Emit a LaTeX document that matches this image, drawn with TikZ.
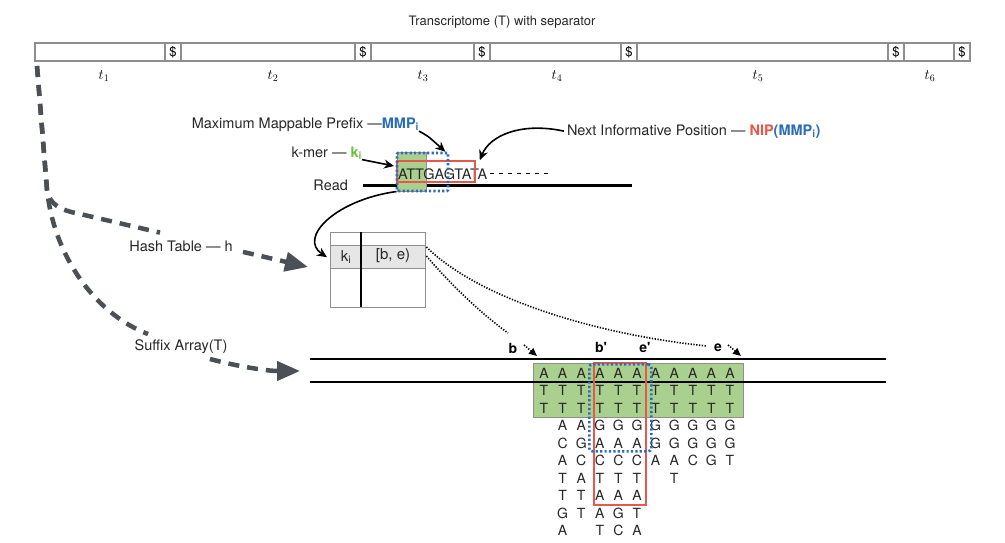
\documentclass[tikz,border=0pt]{standalone}
\usepackage{fontspec}
\newfontfamily\hv{TeX Gyre Heros}
\usetikzlibrary{arrows.meta}
\definecolor{mblue}{HTML}{2C6DB7}
\definecolor{mred}{HTML}{E8584A}
\definecolor{mgreen}{HTML}{6DBE45}
\definecolor{gfill}{HTML}{A9D08E}
\definecolor{dgray}{HTML}{4B4F56}
\definecolor{bgray}{HTML}{8E8E8E}
\definecolor{hgray}{HTML}{E6E6E6}
\definecolor{txt}{HTML}{262626}
\begin{document}
\begin{tikzpicture}[x=1pt,y=-1pt,
  lbl/.style={font=\hv\fontsize{14.5}{16}\selectfont, text=txt, inner sep=0pt, outer sep=0pt},
  big/.style={font=\hv\fontsize{14}{16}\selectfont, text=txt, inner sep=0pt, outer sep=0pt},
  bl/.style={font=\hv\bfseries\fontsize{14}{16}\selectfont, inner sep=0pt, outer sep=0pt},
  seg/.style={draw=bgray, line width=1.4pt, inner sep=0pt, outer sep=0pt, minimum height=18pt, anchor=north west, font=\hv\fontsize{13}{15}\selectfont},
  tlab/.style={inner sep=0pt, font=\fontsize{14}{16}\selectfont},
  gdash/.style={draw=dgray, line width=4.5pt, dash pattern=on 11pt off 8pt},
  gtip/.style={-{Triangle[length=23pt,width=19pt]}},
  barrow/.style={-{Stealth[length=10pt,width=9pt]}, line width=1.6pt},
  bdot/.style={draw=mblue, line width=2.6pt, dash pattern=on 2.2pt off 2.2pt},
  redbox/.style={draw=mred, line width=1.6pt},
  kdot/.style={line width=1.6pt, dash pattern=on 1.3pt off 1.5pt},
  sa/.style={font=\hv\fontsize{14}{16}\selectfont, text=txt, inner sep=0pt}
]
\useasboundingbox (0,0) rectangle (1005,542);

% ---- transcriptome bar
\node[lbl, font=\hv\fontsize{13}{15}\selectfont] (title) at (502,22) {Transcriptome (T) with separator};
\node[seg, minimum width=130pt] (s1) at (35,43) {};
\node[seg, minimum width=16pt] (d1) at (165,43) {\$};
\node[seg, minimum width=174pt] (s2) at (181,43) {};
\node[seg, minimum width=16pt] (d2) at (355,43) {\$};
\node[seg, minimum width=103pt] (s3) at (371,43) {};
\node[seg, minimum width=16pt] (d3) at (474,43) {\$};
\node[seg, minimum width=131pt] (s4) at (490,43) {};
\node[seg, minimum width=16pt] (d4) at (621,43) {\$};
\node[seg, minimum width=251pt] (s5) at (637,43) {};
\node[seg, minimum width=16pt] (d5) at (888,43) {\$};
\node[seg, minimum width=50pt] (s6) at (904,43) {};
\node[seg, minimum width=16pt] (d6) at (954,43) {\$};
\node[tlab] (l1) at (104,76) {$t_1$};
\node[tlab] (l2) at (273,76) {$t_2$};
\node[tlab] (l3) at (423,76) {$t_3$};
\node[tlab] (l4) at (557,76) {$t_4$};
\node[tlab] (l5) at (758,76) {$t_5$};
\node[tlab] (l6) at (930,76) {$t_6$};

% ---- gray dashed arrows
\coordinate (gstart) at (37,66);
\coordinate (gbend) at (47,190);
\coordinate (htip) at (308,267);
\coordinate (stip) at (300,371);
\draw[gdash] (gstart) -- (gbend) .. controls (50,205) and (60,210) .. (80,214) -- (160,232.6);
\draw[gdash, gtip] (243,251.9) -- (htip);
\node[lbl] (hlab) at (181,246) {Hash Table — h};
\draw[gdash] (gstart) -- (gbend) .. controls (55,262) and (100,316) .. (148,334);
\draw[gdash, gtip] (210,359) .. controls (240,367) and (268,371) .. (stip);
\node[lbl] (slab) at (181,347) {Suffix Array(T)};

% ---- read
\draw[line width=3pt] (363,185) -- (632,185) coordinate (readend);
\node[lbl, anchor=east] (readlab) at (348,185) {Read};
\node[draw=bgray, line width=1pt, fill=gfill, minimum width=29pt, minimum height=39pt, inner sep=0pt] (kbox) at (411.5,171.5) {};
\node[big, anchor=base west, font=\hv\fontsize{14.5}{16}\selectfont] (rtxt) at (398,179) {ATTGAGTATA};
\draw[line width=1pt, dash pattern=on 4pt off 5pt] ([xshift=3pt]rtxt.east) -- ++(62,0) coordinate (rdashend);
\node[redbox, minimum width=78pt, minimum height=21pt, inner sep=0pt] (rbox) at (436,171.5) {};
\node[bdot, rounded corners=1pt, minimum width=51pt, minimum height=38pt, inner sep=0pt] (bbox) at (422.5,172) {};

\node[lbl, anchor=base east] (mmplab) at (419,128) {Maximum Mappable Prefix —\textcolor{mblue}{\bfseries MMP\textsubscript{i}}};
\node[lbl, anchor=base east] (kmerlab) at (362,157) {k-mer — \textcolor{mgreen}{\bfseries k\textsubscript{i}}};
\node[lbl, anchor=base west] (niplab) at (567,135) {Next Informative Position — \textcolor{mred}{\bfseries NIP}\textcolor{mblue}{\bfseries (MMP\textsubscript{i})}};
\draw[barrow] (mmplab.south east) .. controls (428,136) .. ([xshift=-4pt]bbox.north east);
\draw[barrow] (kmerlab.south east) -- (394,166);
\draw[barrow] ([xshift=-3pt]niplab.west) .. controls (522,122) and (490,135) .. ([xshift=4pt]rbox.north east);

% ---- hash table
\node[draw=bgray, line width=1.4pt, minimum width=95pt, minimum height=75pt, anchor=north west, inner sep=0pt] (htab) at (330,232) {};
\node[draw=bgray, fill=hgray, line width=1.4pt, minimum width=95pt, minimum height=23pt, anchor=north west, inner sep=0pt] (hrow) at (330,245) {};
\draw[line width=1.5pt] (htab.north west) ++(31,0) -- ++(0,75);
\node[big, font=\hv\fontsize{15}{17}\selectfont] (hk) at (346,257) {k\textsubscript{i}};
\node[big, font=\hv\fontsize{15}{17}\selectfont] (hbe) at (393,256) {[b, e)};
\draw[barrow] (kbox.south west) .. controls (335,200) and (298,238) .. ([xshift=-3pt]hrow.west);

% ---- suffix array
\node[draw=bgray, line width=1pt, fill=gfill, minimum width=210pt, minimum height=54pt, anchor=north west, inner sep=0pt] (gblock) at (533,363) {};
\draw[line width=2pt] (310,359) coordinate (sa1) -- (886,359);
\draw[line width=2pt] (310,382) coordinate (sa2) -- (886,382);

\foreach \c in {0,...,10} {
  \node[sa] (A0-\c) at (544+18.6*\c,373) {A};
  \node[sa] (T1-\c) at (544+18.6*\c,390.5) {T};
  \node[sa] (T2-\c) at (544+18.6*\c,408) {T};
}
\foreach \r/\row in {3/{1/A,2/A,3/G,4/G,5/G,6/G,7/G,8/G,9/G,10/G},
                     4/{1/C,2/G,3/A,4/A,5/A,6/G,7/G,8/G,9/G,10/G},
                     5/{1/A,2/C,3/C,4/C,5/C,6/A,7/A,8/C,9/G,10/T},
                     6/{1/T,2/A,3/T,4/T,5/T,7/T},
                     7/{1/T,2/T,3/A,4/A,5/A},
                     8/{1/G,2/T,3/A,4/G,5/T},
                     9/{1/A,3/T,4/C,5/A}} {
  \foreach \c/\l in \row {
    \node[sa] (L\r-\c) at (544+18.6*\c,373+17.5*\r) {\l};
  }
}
\node[redbox, minimum width=52pt, minimum height=142pt, anchor=north west, inner sep=0pt] (sred) at (593,362) {};
\node[bdot, rounded corners=3pt, minimum width=62pt, minimum height=87pt, anchor=north west, inner sep=0pt] (sblue) at (588,363) {};

% ---- b, e labels and dotted pointers
\node[bl] (bl) at (513,348) {b};
\node[bl] (bpl) at (601,347) {b'};
\node[bl] (epl) at (645,347) {e'};
\node[bl] (el) at (718,348) {e};
\coordinate (bdotend) at (508,333);
\coordinate (edotend) at (707,346);
\draw[kdot] ([yshift=-2pt]hrow.north east) .. controls (480,300) and (600,335) .. (edotend);
\draw[kdot] ([yshift=-11pt]hrow.north east) .. controls (460,295) and (490,320) .. (bdotend);
\draw[kdot, -{Triangle[length=8pt,width=7pt]}] (524,345) -- (537,356) coordinate (btip);
\draw[kdot, -{Triangle[length=8pt,width=7pt]}] (728,345) -- (741,356) coordinate (etip);
\end{tikzpicture}
\end{document}
